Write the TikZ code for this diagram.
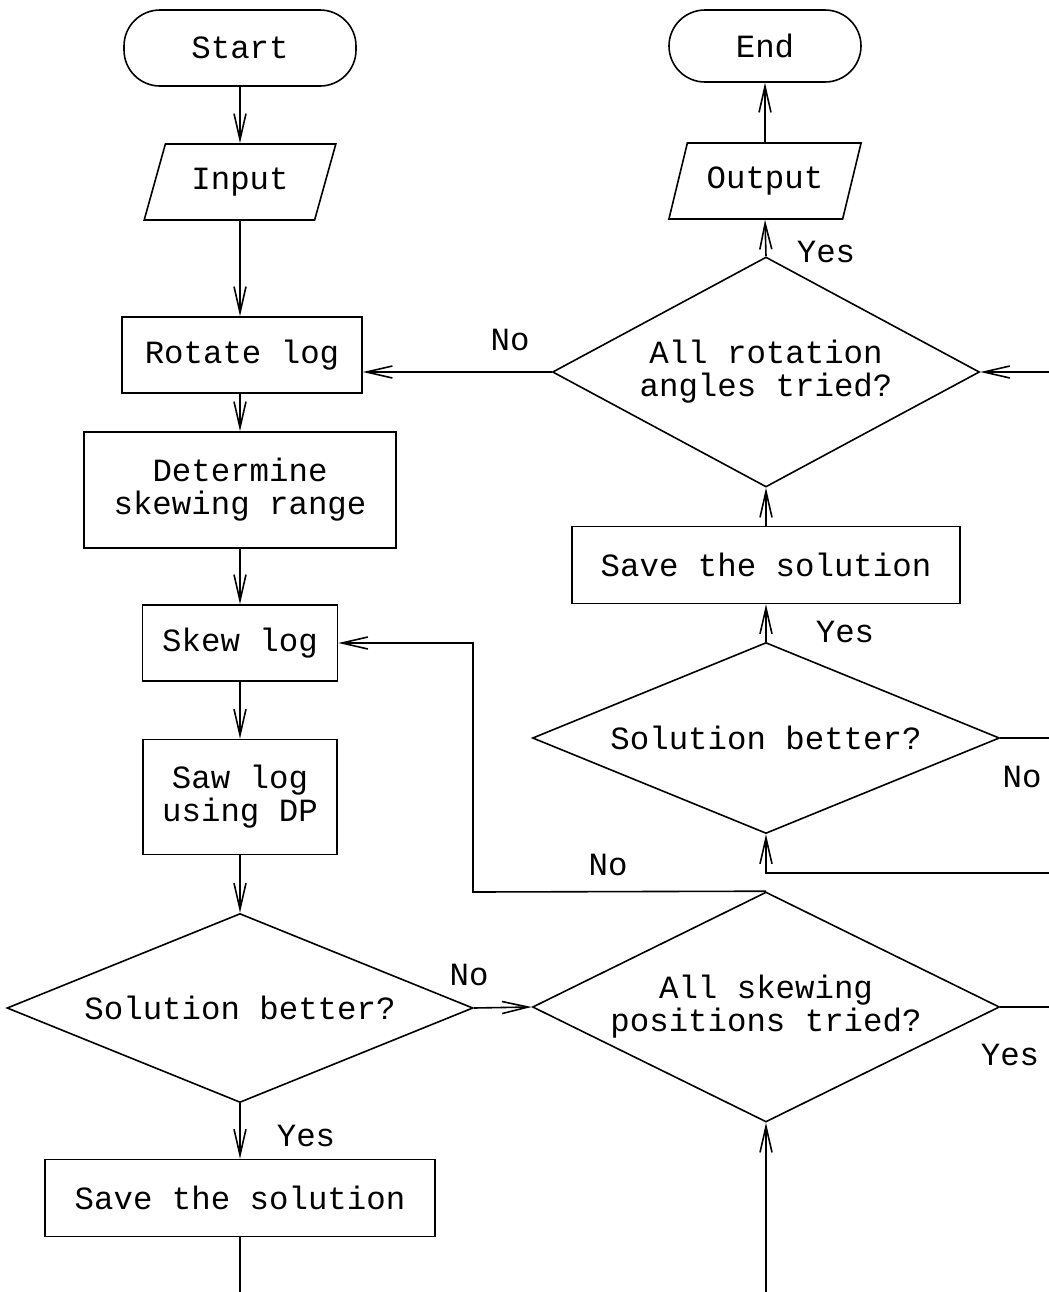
\documentclass[tikz,border=0pt]{standalone}
\usepackage{fontspec}
\newfontfamily\chartfont{Liberation Mono}
\usetikzlibrary{arrows.meta,shapes.geometric}

\begin{document}
\begin{tikzpicture}[x=0.5pt,y=-0.5pt,
  every node/.style={font=\chartfont\fontsize{16.2}{16.4}\selectfont},
  box/.style={draw, line width=0.8pt, rectangle, inner sep=0pt, align=center},
  terminal/.style={box, rounded corners=18pt},
  io/.style={draw, line width=0.8pt, trapezium, trapezium left angle=64,
    trapezium right angle=116, trapezium stretches=true, inner sep=0pt},
  decision/.style={draw, line width=0.8pt, diamond, aspect=2, inner sep=0pt, align=center},
  flow/.style={line width=0.8pt, -{Straight Barb[length=13pt,width=6pt]}},
  link/.style={line width=0.8pt},
  tag/.style={inner sep=0pt}
]
\useasboundingbox (0,0) rectangle (1049,1292);

% left column
\node[terminal, minimum width=116pt, minimum height=38pt] (start) at (240,48) {Start};
\node[io, minimum width=96pt, minimum height=38pt] (input) at (240,182) {Input};
\node[box, minimum width=120pt, minimum height=38pt] (rot) at (242,355) {Rotate log};
\node[box, minimum width=156pt, minimum height=58pt] (det) at (240,490) {Determine\\skewing range};
\node[box, minimum width=97.5pt, minimum height=38pt] (skew) at (240,643) {Skew log};
\node[box, minimum width=97pt, minimum height=57.5pt] (saw) at (240,797) {Saw log\\using DP};
\node[decision, minimum width=233pt, minimum height=94.5pt] (sb1) at (240,1008) {Solution better?};
\node[box, minimum width=195pt, minimum height=38.5pt] (save1) at (240,1198) {Save the solution};

% right column
\node[terminal, minimum width=96pt, minimum height=36pt] (end) at (765,46) {End};
\node[io, minimum width=96.5pt, minimum height=38pt] (output) at (765,181) {Output};
\node[decision, minimum width=213.5pt, minimum height=115pt] (rotq) at (766,372) {All rotation\\angles tried?};
\node[box, minimum width=194pt, minimum height=38.5pt] (save2) at (766,565) {Save the solution};
\node[decision, minimum width=233.5pt, minimum height=95.5pt] (sb2) at (766,738) {Solution better?};
\node[decision, minimum width=233.5pt, minimum height=115pt] (skq) at (766,1007) {All skewing\\positions tried?};

% free ends at the page border
\coordinate (edge) at (1049,0);
\coordinate (bl) at (240,1292);
\coordinate (br) at (766,1292);
\coordinate (rin) at (1049,873);
\coordinate (loopx) at (473,892);

% main sequence
\draw[flow] (start) -- (input);
\draw[flow] (input.south) -- (input.south |- rot.north);
\draw[flow] (rot.south -| det.north) -- (det.north);
\draw[flow] (det) -- (skew);
\draw[flow] (skew) -- (saw);
\draw[flow] (saw) -- (sb1);
\draw[flow] (sb1) -- (save1);
\draw[flow] (sb1.east) -- (skq.west);
\draw[link] (save1.south) -- (bl);
\draw[flow] (br) -- (skq.south);

% skewing loop
\draw[flow] (skq.north) -- (loopx) |- (skew.east);
\draw[link] (skq.east) -- (skq.east -| edge);
\draw[flow] (rin) -| (sb2.south);
\draw[link] (sb2.east) -- (sb2.east -| edge);
\draw[flow] (sb2.north) -- (save2.south);
\draw[flow] (save2.north) -- (rotq.south);

% rotation loop
\draw[flow] (rotq.east -| edge) -- (rotq.east);
\draw[flow] (rotq.west) -- (rotq.west -| rot.east);
\draw[flow] (rotq.north) -- (output.south);
\draw[flow] (output) -- (end);

% branch labels
\node[tag] (l1) at (510,340) {No};
\node[tag] (l2) at (826,252) {Yes};
\node[tag] (l3) at (845,632) {Yes};
\node[tag] (l4) at (1022,777) {No};
\node[tag] (l5) at (608,865) {No};
\node[tag] (l6) at (469,975) {No};
\node[tag] (l7) at (1010,1055) {Yes};
\node[tag] (l8) at (306,1136) {Yes};
\end{tikzpicture}
\end{document}
